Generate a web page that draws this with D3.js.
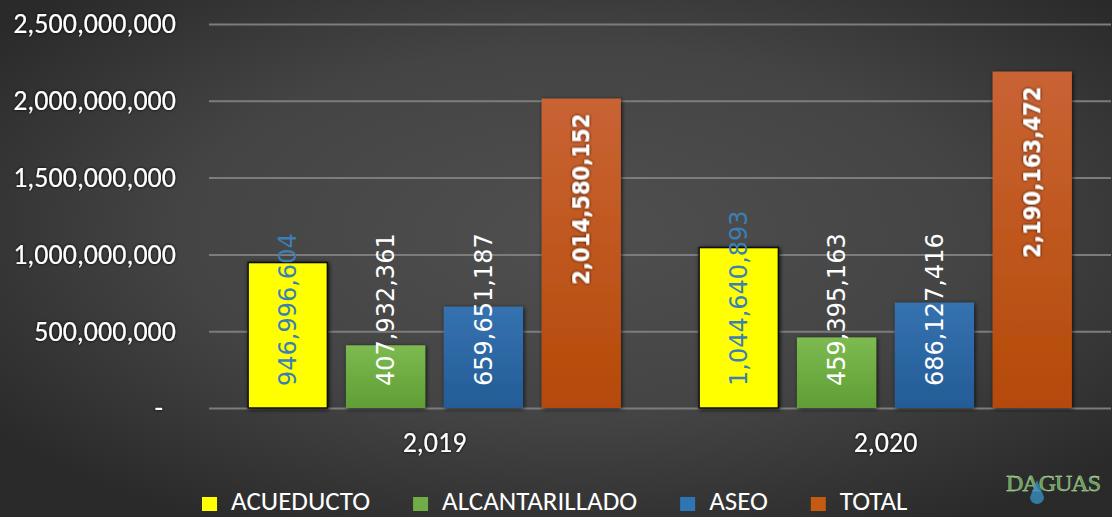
<!DOCTYPE html>
<html>
<head>
<meta charset="utf-8">
<script src="https://cdn.jsdelivr.net/npm/d3@7"></script>
<style>
  body { margin: 0; background: #333; }
  svg { display: block; }
</style>
</head>
<body>
<div id="chart"></div>
<script>
var width = 1112,
  height = 517;

// data
var years = [2019, 2020];
var series = ['ACUEDUCTO', 'ALCANTARILLADO', 'ASEO', 'TOTAL'];
var acueducto = [946996604, 1044640893];
var alcantarillado = [407932361, 459395163];
var aseo = [659651187, 686127416];
var total = [2014580152, 2190163472];
var yTicks = [0, 500000000, 1000000000, 1500000000, 2000000000, 2500000000];

var values = [acueducto, alcantarillado, aseo, total];
var colors = ['#ffff00', '#70ad47', '#2e75b6', '#c55a11'];

var rows = [];
years.forEach(function (y, i) {
  series.forEach(function (s, j) {
    rows.push({ year: y, key: s, idx: j, value: values[j][i] });
  });
});

var svg = d3.select('#chart').append('svg')
  .attr('width', width)
  .attr('height', height);

var defs = svg.append('defs');

// background gradient
var bg = defs.append('radialGradient')
  .attr('id', 'bg')
  .attr('cx', '52%').attr('cy', '45%').attr('r', '65%');
bg.append('stop').attr('offset', '0%').attr('stop-color', '#4f4f4f');
bg.append('stop').attr('offset', '55%').attr('stop-color', '#444');
bg.append('stop').attr('offset', '100%').attr('stop-color', '#2a2a2a');

// bar gradients
var barGrad = [
  ['#ffff00', '#ffff00'],
  ['#7dba50', '#5f9e36'],
  ['#3572b0', '#245c96'],
  ['#c96334', '#b54a08']
];
barGrad.forEach(function (g, i) {
  var lg = defs.append('linearGradient')
    .attr('id', 'bar' + i)
    .attr('x1', 0).attr('y1', 0).attr('x2', 0).attr('y2', 1);
  lg.append('stop').attr('offset', '0%').attr('stop-color', g[0]);
  lg.append('stop').attr('offset', '100%').attr('stop-color', g[1]);
});

var shadow = defs.append('filter').attr('id', 'shadow')
  .attr('x', '-20%').attr('y', '-20%').attr('width', '140%').attr('height', '140%');
shadow.append('feDropShadow')
  .attr('dx', 1).attr('dy', 1).attr('stdDeviation', 2)
  .attr('flood-color', '#000').attr('flood-opacity', 0.8);

var glow = defs.append('filter').attr('id', 'glow')
  .attr('x', '-10%').attr('y', '-30%').attr('width', '120%').attr('height', '160%');
glow.append('feDropShadow')
  .attr('dx', 0).attr('dy', 0).attr('stdDeviation', 1.5)
  .attr('flood-color', '#000').attr('flood-opacity', 1);

svg.append('rect')
  .attr('width', width)
  .attr('height', height)
  .attr('fill', 'url(#bg)');

var plotLeft = 209,
  plotRight = 1111,
  plotTop = 24,
  plotBottom = 408;

var xScale = d3.scaleBand()
  .domain(years)
  .range([plotLeft, plotRight]);

var xInner = d3.scaleBand()
  .domain(series)
  .range([0, xScale.bandwidth()])
  .paddingInner(0.19)
  .paddingOuter(0.4);

var yScale = d3.scaleLinear()
  .domain([0, 2500000000])
  .range([plotBottom, plotTop]);

var fmt = d3.format(',');
var calibri = 'Carlito, Calibri, "Open Sans", sans-serif';

// gridlines + y labels
var yAxis = d3.axisLeft(yScale)
  .tickValues(yTicks)
  .tickSize(-(plotRight - plotLeft))
  .tickPadding(33)
  .tickFormat(function (d) { return d === 0 ? '-' : fmt(d); });

var gy = svg.append('g')
  .attr('class', 'axis y')
  .attr('transform', 'translate(' + plotLeft + ',0)')
  .call(yAxis);

gy.select('.domain').remove();
gy.selectAll('.tick line')
  .attr('stroke', '#7c7c7c')
  .attr('stroke-width', 2);
gy.selectAll('.tick text')
  .attr('fill', '#fff')
  .attr('font-family', calibri)
  .attr('font-size', 28)
  .attr('filter', 'url(#glow)')
  .attr('dx', function (d) { return d === 0 ? -13 : 0; });

// bars
svg.append('g').selectAll('rect')
  .data(rows)
  .enter()
  .append('rect')
  .attr('x', function (d) { return xScale(d.year) + xInner(d.key); })
  .attr('y', function (d) { return yScale(d.value); })
  .attr('width', xInner.bandwidth())
  .attr('height', function (d) { return yScale(0) - yScale(d.value); })
  .attr('fill', function (d) { return 'url(#bar' + d.idx + ')'; })
  .attr('stroke', function (d) { return d.idx === 0 ? '#111' : 'none'; })
  .attr('stroke-width', 1.5)
  .attr('filter', 'url(#shadow)');

// value labels, rotated
svg.append('g').selectAll('text')
  .data(rows)
  .enter()
  .append('text')
  .attr('transform', function (d) {
    var cx = xScale(d.year) + xInner(d.key) + xInner.bandwidth() / 2;
    var cy = d.idx === 3 ? yScale(d.value) + 15 : yScale(0) - 22;
    return 'translate(' + cx + ',' + cy + ') rotate(-90)';
  })
  .attr('dy', '0.36em')
  .attr('text-anchor', function (d) { return d.idx === 3 ? 'end' : 'start'; })
  .attr('font-family', function (d) {
    return d.idx === 3 ? '"DejaVu Sans Condensed", "DejaVu Sans", sans-serif' : '"DejaVu Sans", sans-serif';
  })
  .attr('font-weight', function (d) { return d.idx === 3 ? 'bold' : 'normal'; })
  .attr('font-size', function (d) { return d.idx === 3 ? 23.5 : 24; })
  .attr('fill', function (d) { return d.idx === 0 ? '#3b7fb5' : '#fff'; })
  .attr('filter', function (d) { return d.idx === 3 ? 'url(#glow)' : null; })
  .text(function (d) { return fmt(d.value); });

// x axis labels
var xAxis = d3.axisBottom(xScale)
  .tickSize(0)
  .tickPadding(24)
  .tickFormat(function (d) { return fmt(d); });

var gx = svg.append('g')
  .attr('class', 'axis x')
  .attr('transform', 'translate(0,' + plotBottom + ')')
  .call(xAxis);
gx.select('.domain').remove();
gx.selectAll('.tick text')
  .attr('fill', '#fff')
  .attr('font-family', calibri)
  .attr('font-size', 28)
  .attr('filter', 'url(#glow)');

// legend, laid out from the measured text widths
var legend = svg.append('g').attr('class', 'legend');
var lx = 202;
series.forEach(function (s, i) {
  var item = legend.append('g').attr('transform', 'translate(' + lx + ',496)');
  item.append('rect')
    .attr('y', 1)
    .attr('width', 15)
    .attr('height', 14)
    .attr('fill', colors[i]);
  var t = item.append('text')
    .attr('x', 29)
    .attr('y', 14)
    .attr('fill', '#fff')
    .attr('font-family', calibri)
    .attr('font-size', 27)
    .text(s);
  lx += 29 + t.node().getComputedTextLength() + 43;
});

// logo mark bottom right
svg.append('text')
  .attr('x', 1006)
  .attr('y', 491)
  .attr('fill', '#5e9c4c')
  .attr('stroke', '#cfe8c4')
  .attr('stroke-width', 0.4)
  .attr('font-family', '"Liberation Serif", serif')
  .attr('font-size', 24)
  .attr('letter-spacing', -1)
  .text('DAGUAS');
svg.append('path')
  .attr('d', 'M1037,480 L1030,497 A7,7 0 1,0 1044,497 Z')
  .attr('fill', '#3a8fc0')
  .attr('opacity', 0.8);
</script>
</body>
</html>
